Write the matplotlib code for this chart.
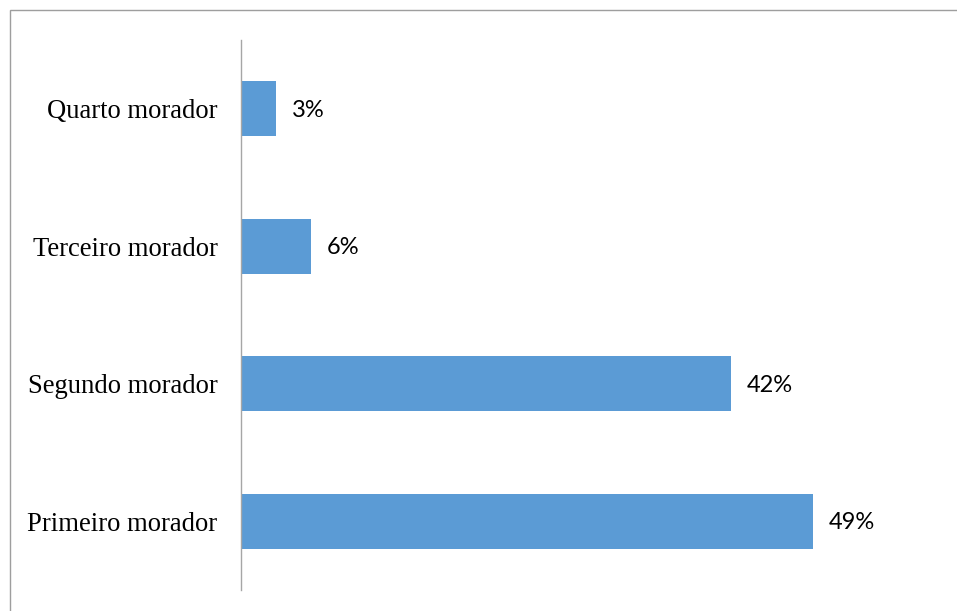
import matplotlib.pyplot as plt
from matplotlib.patches import Rectangle

categorias = ["Primeiro morador", "Segundo morador", "Terceiro morador", "Quarto morador"]
percentuais = [49, 42, 6, 3]

BAR_COLOR = "#5B9BD5"
AXIS_COLOR = "#A6A6A6"

fig = plt.figure(figsize=(9.57, 6.11), dpi=100)
ax = fig.add_axes([241 / 957, 1 - 590 / 611, 700 / 957, 550 / 611])

y = list(range(len(categorias)))
ax.barh(y, percentuais, height=0.4, color=BAR_COLOR)

for yi, v in zip(y, percentuais):
    ax.annotate(f"{v}%", xy=(v, yi), xytext=(11.5, -1), textcoords="offset points",
                ha="left", va="center", fontsize=17, family="Lato", color="#000000")

ax.set_xlim(0, 60)
ax.set_ylim(-0.5, 3.5)
ax.set_yticks(y)
ax.set_yticklabels(categorias, family="Liberation Serif", fontsize=19.2)
ax.tick_params(axis="y", length=0, pad=17)
ax.set_xticks([])
for side in ["top", "right", "bottom"]:
    ax.spines[side].set_visible(False)
ax.spines["left"].set_color(AXIS_COLOR)
ax.spines["left"].set_linewidth(1.0)

# outer chart frame, cut off at the right and bottom edges
fig.patches.append(Rectangle((10 / 957, -0.1), 1.2, 1 - 10 / 611 + 0.1,
                             transform=fig.transFigure, fill=False,
                             edgecolor="#9E9E9E", linewidth=1.0))

fig.savefig("out.png", dpi=100)
